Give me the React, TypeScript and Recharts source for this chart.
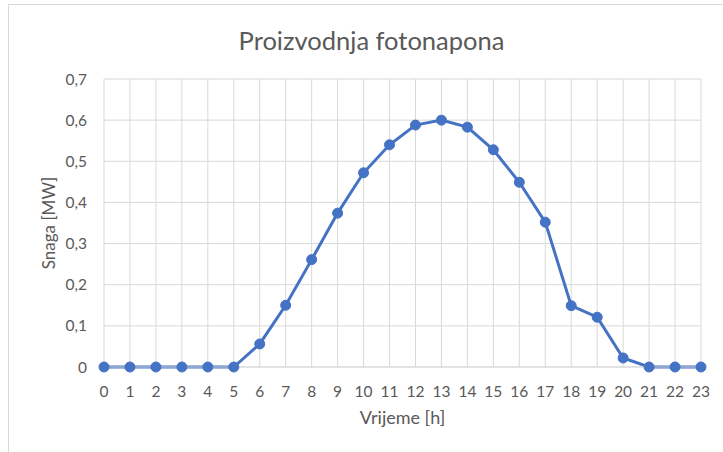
import { LineChart, Line, XAxis, YAxis, CartesianGrid } from "recharts"

// hourly PV output
const hours = ["0", "1", "2", "3", "4", "5", "6", "7", "8", "9", "10", "11", "12", "13", "14", "15", "16", "17", "18", "19", "20", "21", "22", "23"]
const snaga = [0, 0, 0, 0, 0, 0, 0.056, 0.15, 0.261, 0.374, 0.472, 0.54, 0.588, 0.6, 0.583, 0.528, 0.449, 0.352, 0.149, 0.121, 0.022, 0, 0, 0]
const yTicks = [0, 0.1, 0.2, 0.3, 0.4, 0.5, 0.6, 0.7]

const title = "Proizvodnja fotonapona"
const xLabel = "Vrijeme [h]"
const yLabel = "Snaga [MW]"

const data = hours.map((h, i) => ({ hour: h, snaga: snaga[i] }))

const FONT = "Lato, 'Noto Sans', sans-serif"
const TEXT = "#595959"
const GRID = "#d9d9d9"
const BLUE = "#4472C4"

const fmt = (v: number) => (v === 0 ? "0" : v.toFixed(1).replace(".", ","))

export default function App() {
  return (
    <div
      style={{
        position: "absolute",
        left: 8,
        top: 4,
        width: 714,
        height: 447,
        borderTop: `1px solid ${GRID}`,
        borderLeft: `1px solid ${GRID}`,
        background: "#fff",
        fontFamily: FONT,
      }}
    >
      <div
        style={{
          position: "absolute",
          left: 0,
          width: 725,
          top: 22,
          lineHeight: "26px",
          fontSize: 25.5,
          color: TEXT,
          textAlign: "center",
        }}
      >
        {title}
      </div>
      <LineChart width={714} height={447} data={data} margin={{ top: 74, right: 22, left: 29, bottom: 25 }}>
        <CartesianGrid stroke={GRID} strokeWidth={1} />
        <XAxis
          dataKey="hour"
          stroke={GRID}
          tickLine={false}
          tickSize={6}
          tickMargin={13}
          interval={0}
          height={60}
          tick={{ fill: TEXT, fontSize: 15.5, fontFamily: FONT }}
          label={{ value: xLabel, position: "insideBottom", offset: 3, fill: TEXT, fontSize: 18, fontFamily: FONT }}
        />
        <YAxis
          domain={[0, 0.7]}
          ticks={yTicks}
          tickFormatter={fmt}
          axisLine={false}
          tickLine={false}
          tickSize={6}
          tickMargin={11}
          width={66}
          tick={{ fill: TEXT, fontSize: 15.5, fontFamily: FONT }}
          label={{
            value: yLabel,
            angle: -90,
            position: "insideLeft",
            offset: 11,
            fill: TEXT,
            fontSize: 17,
            fontFamily: FONT,
            style: { textAnchor: "middle" },
          }}
        />
        <Line
          type="linear"
          dataKey="snaga"
          stroke={BLUE}
          strokeWidth={3}
          dot={{ r: 5, fill: BLUE, stroke: BLUE, strokeWidth: 1 }}
          activeDot={false}
          isAnimationActive={false}
        />
      </LineChart>
    </div>
  )
}
